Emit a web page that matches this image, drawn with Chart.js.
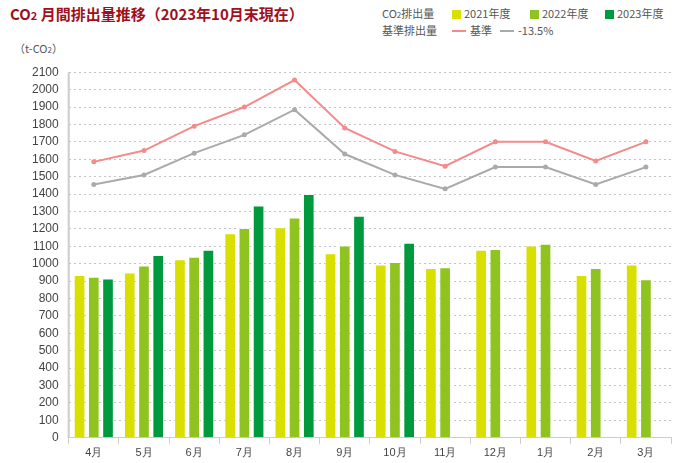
<!DOCTYPE html><html><head><meta charset="utf-8">
<script src="https://cdn.jsdelivr.net/npm/chart.js"></script>
<style>
body{margin:0;width:681px;height:463px;font-family:"Noto Sans CJK JP","Noto Sans",sans-serif;background:#fff;position:relative;overflow:hidden}
#t{position:absolute;left:10px;top:3px;font-size:15px;font-weight:bold;color:#a0101a}
.lg{position:absolute;font-size:11px;color:#555;white-space:nowrap}
.sq{display:inline-block;width:9px;height:9px;margin-right:3px;vertical-align:-1px}
.ln{display:inline-block;width:14px;height:2px;margin-right:4px;vertical-align:3px}
#u{position:absolute;left:14px;top:40px;font-size:11px;color:#555}
#w{position:absolute;left:0;top:55px;width:681px;height:408px}
</style></head><body>
<div id="t">CO<span style="font-size:11px">2</span> 月間排出量推移（2023年10月末現在）</div>
<div class="lg" style="left:382px;top:5px">CO<span style="font-size:8px">2</span>排出量</div>
<div class="lg" style="left:452px;top:5px"><span class="sq" style="background:#d9df00"></span>2021年度</div>
<div class="lg" style="left:530px;top:5px"><span class="sq" style="background:#8fc31f"></span>2022年度</div>
<div class="lg" style="left:605px;top:5px"><span class="sq" style="background:#009a3e"></span>2023年度</div>
<div class="lg" style="left:382px;top:22px">基準排出量</div>
<div class="lg" style="left:452px;top:22px"><span class="ln" style="background:#f48a8a"></span>基準</div>
<div class="lg" style="left:500px;top:22px"><span class="ln" style="background:#aaa"></span>-13.5%</div>
<div id="u">（t-CO<span style="font-size:8px">2</span>）</div>
<div id="w"><canvas id="c"></canvas></div>
<script>
const months=["4月","5月","6月","7月","8月","9月","10月","11月","12月","1月","2月","3月"];
const fy2021=[935,950,1025,1175,1210,1060,995,975,1080,1105,935,995];
const fy2022=[925,990,1040,1205,1265,1105,1010,980,1085,1115,975,910];
const fy2023=[915,1050,1080,1335,1400,1275,1120,null,null,null,null,null];
const base=[1585,1650,1790,1900,2055,1780,1645,1560,1700,1700,1590,1700];
const minus135=[1455,1510,1635,1740,1885,1630,1510,1430,1555,1555,1455,1555];
const bar=(d,c)=>({type:'bar',data:d,backgroundColor:c,borderColor:'rgba(255,255,255,0.6)',borderWidth:1,barPercentage:0.82,categoryPercentage:0.85,order:2});
const line=(d,c)=>({type:'line',data:d,borderColor:c,backgroundColor:c,borderWidth:2,pointRadius:2.5,pointBorderWidth:0,order:1});
const axisLine={id:'axisLine',afterDatasetsDraw(ch){const a=ch.chartArea,x=ch.ctx;x.save();x.strokeStyle='#ccc';x.lineWidth=2;x.beginPath();x.moveTo(a.left,a.top);x.lineTo(a.left,a.bottom);x.stroke();x.restore();}};
new Chart(document.getElementById('c'),{data:{labels:months,datasets:[bar(fy2021,'#d9df00'),bar(fy2022,'#8fc31f'),bar(fy2023,'#009a3e'),line(base,'#f48a8a'),line(minus135,'#aaaaaa')]},
plugins:[axisLine],
options:{responsive:true,maintainAspectRatio:false,animation:false,layout:{padding:{left:22,right:10,top:8,bottom:0}},
plugins:{legend:{display:false},tooltip:{enabled:false}},
scales:{x:{grid:{display:true,drawOnChartArea:false,tickLength:6,color:'#ccc'},border:{color:'#ccc'},ticks:{color:'#444',font:{size:11}}},
y:{min:0,max:2100,ticks:{stepSize:100,color:'#444',font:{size:12},padding:10,callback:v=>String(v)},grid:{color:'#c4c4c4',lineWidth:1,drawTicks:false},border:{display:false,dash:[2,3]}}}}});
</script>
</body></html>
